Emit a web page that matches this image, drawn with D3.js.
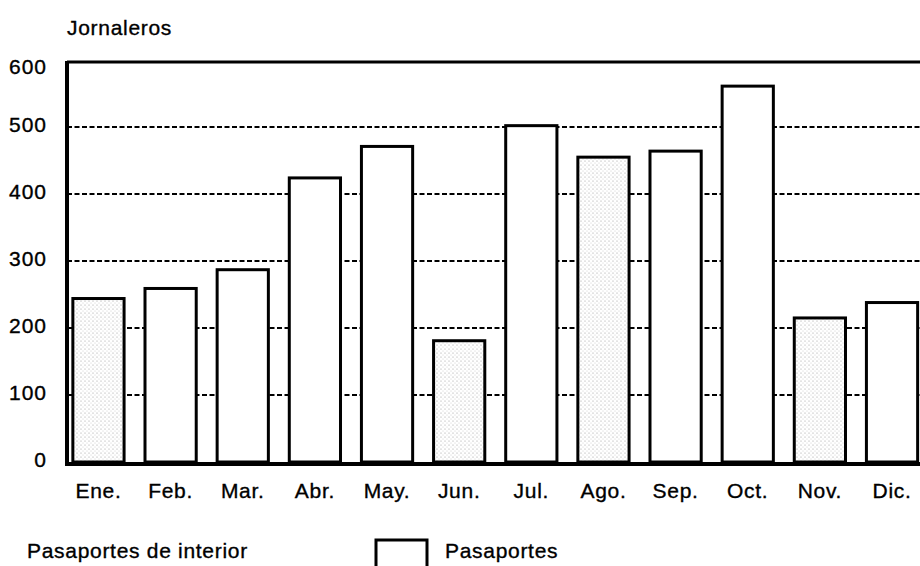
<!DOCTYPE html>
<html>
<head>
<meta charset="utf-8">
<script src="https://cdn.jsdelivr.net/npm/d3@7"></script>
<style>
  body { margin: 0; background: #fff; }
  text { font-family: "Liberation Sans", Arial, sans-serif; fill: #000;
         stroke: #000; stroke-width: 0.35px; letter-spacing: 0.7px; }
</style>
</head>
<body>
<div id="chart"></div>
<script>
// data
var months = ["Ene.", "Feb.", "Mar.", "Abr.", "May.", "Jun.", "Jul.", "Ago.", "Sep.", "Oct.", "Nov.", "Dic."];
var jornaleros = [244, 259, 287, 424, 471, 181, 502, 455, 464, 561, 215, 238];
var tipo = ["interior", "pasaporte", "pasaporte", "pasaporte", "pasaporte", "interior",
            "pasaporte", "interior", "pasaporte", "pasaporte", "interior", "pasaporte"];
var yTicks = [0, 100, 200, 300, 400, 500, 600];
var legendLabels = ["Pasaportes de interior", "Pasaportes"];

var width = 920, height = 566;

var svg = d3.select("#chart")
  .append("svg")
    .attr("width", width)
    .attr("height", height);

// stipple for the "interior" bars
var pat = svg.append("defs").append("pattern")
    .attr("id", "stipple")
    .attr("patternUnits", "userSpaceOnUse")
    .attr("width", 4)
    .attr("height", 4);
pat.append("rect").attr("width", 4).attr("height", 4).attr("fill", "#fff");
pat.append("circle").attr("cx", 1).attr("cy", 1).attr("r", 0.6).attr("fill", "#9a9a9a");
pat.append("circle").attr("cx", 3).attr("cy", 3).attr("r", 0.5).attr("fill", "#c4c4c4");

var x = d3.scaleBand()
  .domain(months)
  .range([62.4, 928.1])
  .paddingInner(0.29)
  .paddingOuter(0.145);

var y = d3.scaleLinear()
  .domain([0, 600])
  .range([462, 60]);

var left = 67;

// dashed grid lines
svg.append("g")
  .selectAll("line")
  .data(yTicks.filter(function (d) { return d > 0 && d < 600; }))
  .enter()
  .append("line")
    .attr("x1", left)
    .attr("x2", width)
    .attr("y1", function (d) { return y(d); })
    .attr("y2", function (d) { return y(d); })
    .attr("stroke", "#000")
    .attr("stroke-width", 2.2)
    .attr("stroke-dasharray", "5,2.5");

// frame: top, left, bottom
svg.append("line")
  .attr("x1", left).attr("x2", width)
  .attr("y1", y(600) + 2).attr("y2", y(600) + 2)
  .attr("stroke", "#000").attr("stroke-width", 3);
svg.append("line")
  .attr("x1", left).attr("x2", left)
  .attr("y1", y(600) + 1).attr("y2", y(0) + 4)
  .attr("stroke", "#000").attr("stroke-width", 4);

// bars
svg.append("g")
  .selectAll("rect")
  .data(d3.range(0, months.length))
  .enter()
  .append("rect")
    .attr("x", function (d) { return x(months[d]); })
    .attr("y", function (d) { return y(jornaleros[d]); })
    .attr("width", x.bandwidth())
    .attr("height", function (d) { return y(0) - y(jornaleros[d]); })
    .attr("fill", function (d) { return tipo[d] === "interior" ? "url(#stipple)" : "#fff"; })
    .attr("stroke", "#000")
    .attr("stroke-width", 3);

svg.append("line")
  .attr("x1", left - 2).attr("x2", width)
  .attr("y1", y(0) + 2).attr("y2", y(0) + 2)
  .attr("stroke", "#000").attr("stroke-width", 4);

// y tick labels
svg.append("g")
  .selectAll("text")
  .data(yTicks)
  .enter()
  .append("text")
    .attr("x", 47)
    .attr("y", function (d) { return d === 600 ? y(d) + 7 : y(d) - 2; })
    .attr("dy", "0.35em")
    .attr("text-anchor", "end")
    .style("font-size", "21px")
    .style("letter-spacing", "1px")
    .text(function (d) { return d; });

// month labels
svg.append("g")
  .selectAll("text")
  .data(months)
  .enter()
  .append("text")
    .attr("x", function (d) { return x(d) + x.bandwidth() / 2; })
    .attr("y", 498)
    .attr("text-anchor", "middle")
    .style("font-size", "21px")
    .text(function (d) { return d; });

// axis title
svg.append("text")
  .attr("x", 67)
  .attr("y", 35)
  .style("font-size", "21px")
  .text("Jornaleros");

// legend
svg.append("text")
  .attr("x", 27)
  .attr("y", 558)
  .style("font-size", "21px")
  .text(legendLabels[0]);

svg.append("rect")
  .attr("x", 376)
  .attr("y", 540)
  .attr("width", 51)
  .attr("height", 30)
  .attr("fill", "#fff")
  .attr("stroke", "#000")
  .attr("stroke-width", 3);

svg.append("text")
  .attr("x", 445)
  .attr("y", 558)
  .style("font-size", "21px")
  .text(legendLabels[1]);
</script>
</body>
</html>
